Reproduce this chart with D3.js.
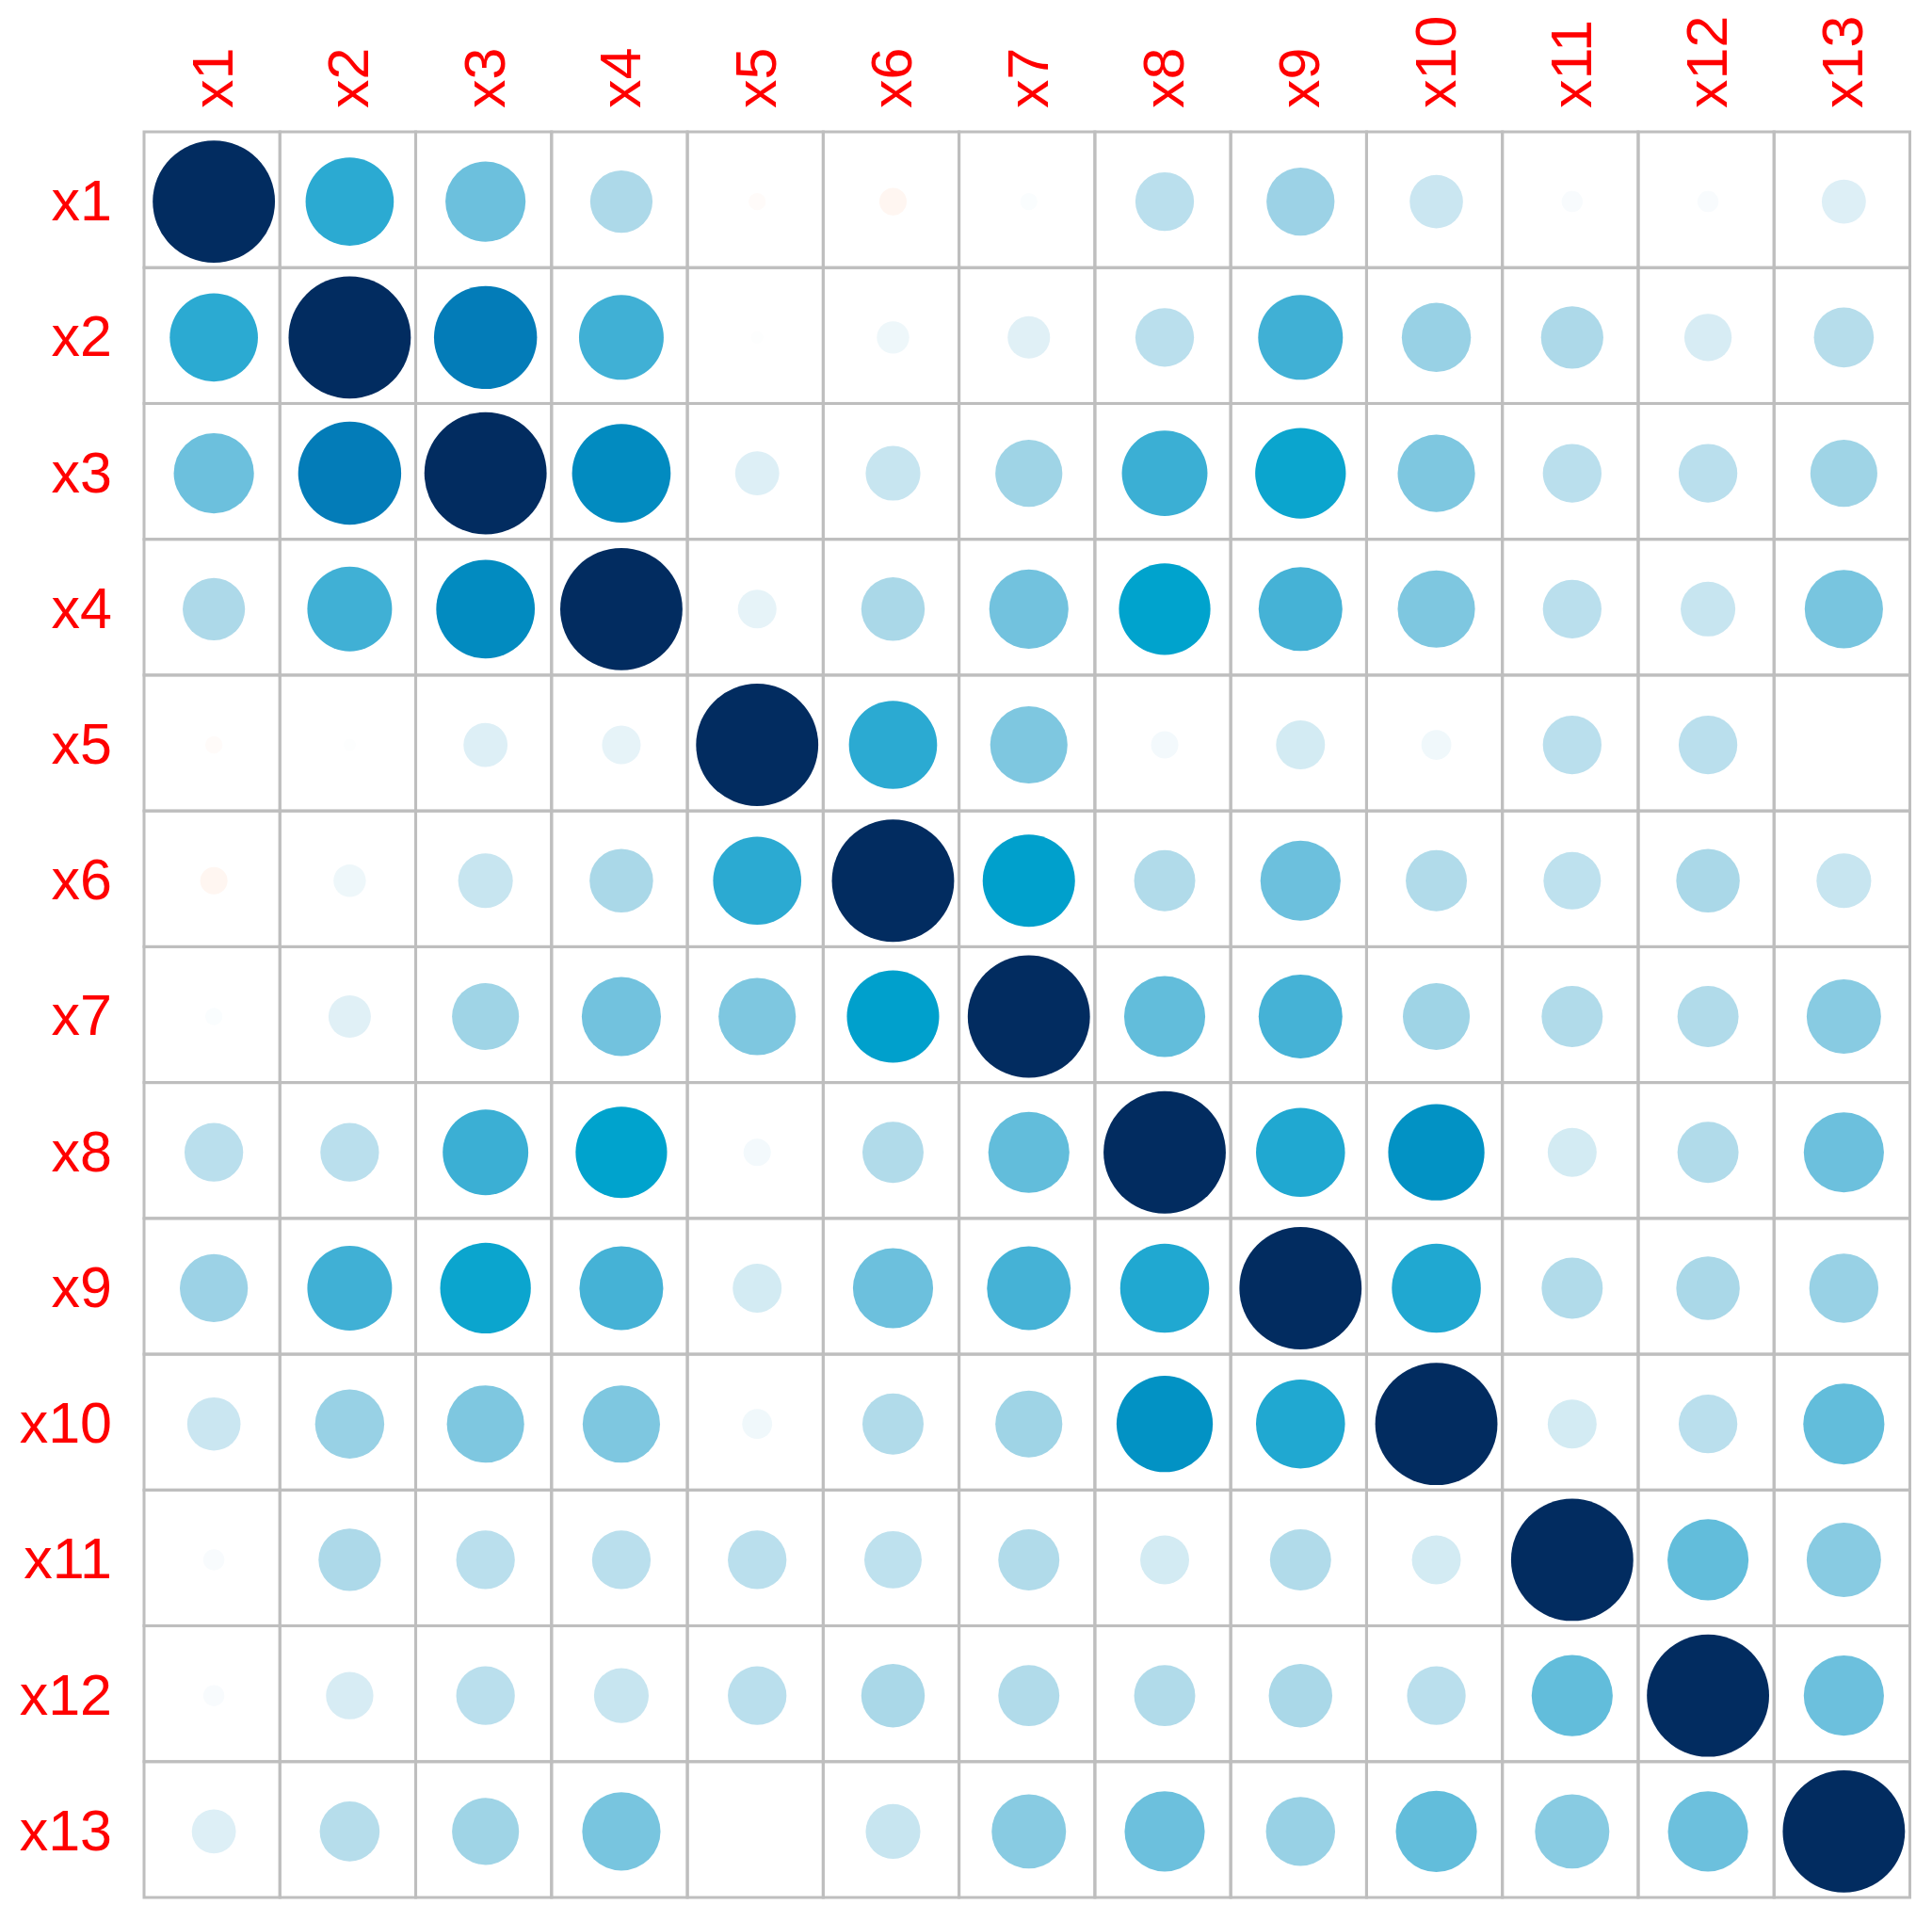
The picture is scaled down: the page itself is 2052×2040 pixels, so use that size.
<html>
<head>
  <title>Correlation plot</title>
  <meta charset="utf-8">
  <script src="https://d3js.org/d3.v7.min.js"></script>
  <style>
    body { margin: 0; background: #ffffff; }
  </style>
</head>
<body>
<div id="my_dataviz"></div>
<script>

  // variable names (row and column labels)
  var vars = ["x1", "x2", "x3", "x4", "x5", "x6", "x7", "x8", "x9", "x10", "x11", "x12", "x13"]

  // correlation values, one row per variable
  var corr = [
    [1, 0.52, 0.43, 0.26, -0.02, -0.05, 0.02, 0.23, 0.31, 0.19, 0.03, 0.03, 0.13],
    [0.52, 1, 0.71, 0.48, 0.01, 0.07, 0.12, 0.23, 0.48, 0.32, 0.26, 0.15, 0.24],
    [0.43, 0.71, 1, 0.65, 0.13, 0.20, 0.30, 0.49, 0.55, 0.40, 0.23, 0.23, 0.30],
    [0.26, 0.48, 0.65, 1, 0.10, 0.27, 0.42, 0.56, 0.47, 0.40, 0.23, 0.20, 0.41],
    [-0.02, 0.01, 0.13, 0.10, 1, 0.52, 0.40, 0.05, 0.16, 0.06, 0.23, 0.23, 0.00],
    [-0.05, 0.07, 0.20, 0.27, 0.52, 1, 0.57, 0.25, 0.43, 0.25, 0.22, 0.27, 0.20],
    [0.02, 0.12, 0.30, 0.42, 0.40, 0.57, 1, 0.44, 0.47, 0.30, 0.25, 0.25, 0.37],
    [0.23, 0.23, 0.49, 0.56, 0.05, 0.25, 0.44, 1, 0.53, 0.62, 0.16, 0.25, 0.43],
    [0.31, 0.48, 0.55, 0.47, 0.16, 0.43, 0.47, 0.53, 1, 0.53, 0.25, 0.27, 0.32],
    [0.19, 0.32, 0.40, 0.40, 0.06, 0.25, 0.30, 0.62, 0.53, 1, 0.16, 0.23, 0.44],
    [0.03, 0.26, 0.23, 0.23, 0.23, 0.22, 0.25, 0.16, 0.25, 0.16, 1, 0.44, 0.37],
    [0.03, 0.15, 0.23, 0.20, 0.23, 0.27, 0.25, 0.25, 0.27, 0.23, 0.44, 1, 0.43],
    [0.13, 0.24, 0.30, 0.41, 0.00, 0.20, 0.37, 0.43, 0.32, 0.44, 0.37, 0.43, 1]
  ]

  // colour ramp stops
  var rampStops  = [-1, -0.5, -0.2, 0, 0.1, 0.2, 0.26, 0.32, 0.4, 0.43, 0.47, 0.52, 0.56, 0.62, 0.71, 1]
  var rampColors = ["#67001F", "#D6604D", "#FDDBC7", "#FFFFFF", "#E6F3F8", "#C7E5F0", "#ADD9E9", "#98D1E5",
                    "#7EC7E0", "#6CC0DD", "#45B2D6", "#2BAAD2", "#00A3CD", "#0292C4", "#037CB8", "#022C60"]

  var width = 2052
  var height = 2040

  var svg = d3.select("#my_dataviz")
    .append("svg")
      .attr("width", width)
      .attr("height", height)

  var x = d3.scaleBand().domain(vars).range([153, 2028.5])
  var y = d3.scaleBand().domain(vars).range([140, 2015])

  var color = d3.scaleLinear().domain(rampStops).range(rampColors).interpolate(d3.interpolateRgb)

  // flatten matrix into cells
  var cells = []
  corr.forEach(function(row, i) {
    row.forEach(function(v, j) {
      cells.push({ row: vars[i], col: vars[j], value: v })
    })
  })

  // circles: radius follows corrplot, 0.9 * sqrt(|r|) / 2 of a cell
  svg.selectAll("circle")
    .data(cells)
    .enter()
    .append("circle")
      .attr("cx", function(d) { return x(d.col) + x.bandwidth() / 2 + 2 })
      .attr("cy", function(d) { return y(d.row) + y.bandwidth() / 2 + 2 })
      .attr("r", function(d) { return 0.45 * x.bandwidth() * Math.sqrt(Math.abs(d.value)) })
      .attr("fill", function(d) { return color(d.value) })

  // grid
  svg.selectAll("rect.cell")
    .data(cells)
    .enter()
    .append("rect")
      .attr("class", "cell")
      .attr("x", function(d) { return x(d.col) })
      .attr("y", function(d) { return y(d.row) })
      .attr("width", x.bandwidth())
      .attr("height", y.bandwidth())
      .attr("fill", "none")
      .attr("stroke", "#BEBEBE")
      .attr("stroke-width", 3)

  var fs = 61

  // row labels
  svg.selectAll("text.rowlab")
    .data(vars)
    .enter()
    .append("text")
      .attr("class", "rowlab")
      .attr("x", 119)
      .attr("y", function(d) { return y(d) + y.bandwidth() / 2 + 0.36 * fs })
      .attr("text-anchor", "end")
      .attr("fill", "#FF0000")
      .style("font-family", "'Liberation Sans', Arial, sans-serif")
      .style("font-size", fs + "px")
      .text(function(d) { return d })

  // column labels, rotated
  svg.selectAll("text.collab")
    .data(vars)
    .enter()
    .append("text")
      .attr("class", "collab")
      .attr("transform", function(d) { return "translate(" + (x(d) + x.bandwidth() / 2) + ",115) rotate(-90)" })
      .attr("x", 0)
      .attr("y", 0.36 * fs)
      .attr("text-anchor", "start")
      .attr("fill", "#FF0000")
      .style("font-family", "'Liberation Sans', Arial, sans-serif")
      .style("font-size", fs + "px")
      .text(function(d) { return d })

</script>
</body>
</html>
